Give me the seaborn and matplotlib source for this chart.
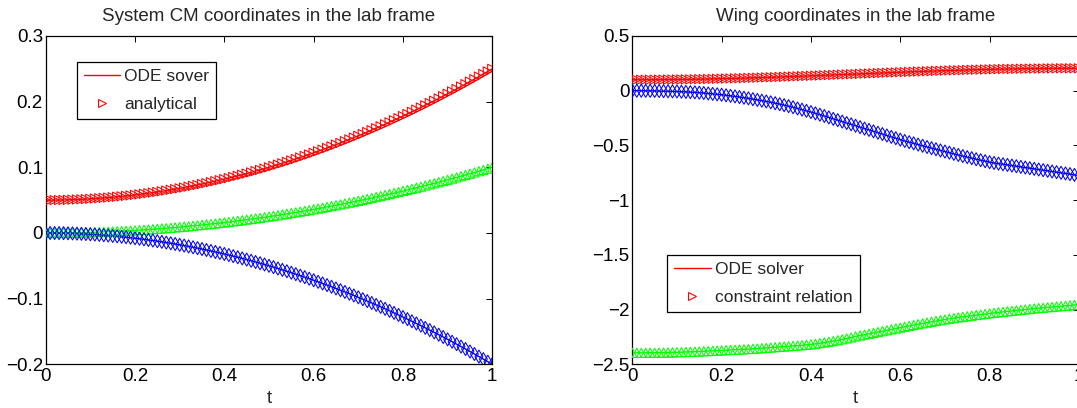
import numpy as np
import pandas as pd
import matplotlib
matplotlib.use("Agg")
import matplotlib.pyplot as plt
import seaborn as sns

# ---------------- data ----------------
t = [round(0.01 * k, 2) for k in range(101)]

cm_red = [0.0500, 0.0500, 0.0501, 0.0502, 0.0503, 0.0505, 0.0507, 0.0510, 0.0513, 0.0516,
          0.0520, 0.0524, 0.0529, 0.0534, 0.0539, 0.0545, 0.0551, 0.0558, 0.0565, 0.0572,
          0.0580, 0.0588, 0.0597, 0.0606, 0.0615, 0.0625, 0.0635, 0.0646, 0.0657, 0.0668,
          0.0680, 0.0692, 0.0705, 0.0718, 0.0731, 0.0745, 0.0759, 0.0774, 0.0789, 0.0804,
          0.0820, 0.0836, 0.0853, 0.0870, 0.0887, 0.0905, 0.0923, 0.0942, 0.0961, 0.0980,
          0.1000, 0.1020, 0.1041, 0.1062, 0.1083, 0.1105, 0.1127, 0.1150, 0.1173, 0.1196,
          0.1220, 0.1244, 0.1269, 0.1294, 0.1319, 0.1345, 0.1371, 0.1398, 0.1425, 0.1452,
          0.1480, 0.1508, 0.1537, 0.1566, 0.1595, 0.1625, 0.1655, 0.1686, 0.1717, 0.1748,
          0.1780, 0.1812, 0.1845, 0.1878, 0.1911, 0.1945, 0.1979, 0.2014, 0.2049, 0.2084,
          0.2120, 0.2156, 0.2193, 0.2230, 0.2267, 0.2305, 0.2343, 0.2382, 0.2421, 0.2460,
          0.2500]

cm_green = [0.0000, 0.0000, 0.0000, 0.0001, 0.0002, 0.0003, 0.0004, 0.0005, 0.0006, 0.0008,
            0.0010, 0.0012, 0.0014, 0.0017, 0.0020, 0.0023, 0.0026, 0.0029, 0.0032, 0.0036,
            0.0040, 0.0044, 0.0048, 0.0053, 0.0058, 0.0063, 0.0068, 0.0073, 0.0078, 0.0084,
            0.0090, 0.0096, 0.0102, 0.0109, 0.0116, 0.0123, 0.0130, 0.0137, 0.0144, 0.0152,
            0.0160, 0.0168, 0.0176, 0.0185, 0.0194, 0.0203, 0.0212, 0.0221, 0.0230, 0.0240,
            0.0250, 0.0260, 0.0270, 0.0281, 0.0292, 0.0303, 0.0314, 0.0325, 0.0336, 0.0348,
            0.0360, 0.0372, 0.0384, 0.0397, 0.0410, 0.0423, 0.0436, 0.0449, 0.0462, 0.0476,
            0.0490, 0.0504, 0.0518, 0.0533, 0.0548, 0.0563, 0.0578, 0.0593, 0.0608, 0.0624,
            0.0640, 0.0656, 0.0672, 0.0689, 0.0706, 0.0723, 0.0740, 0.0757, 0.0774, 0.0792,
            0.0810, 0.0828, 0.0846, 0.0865, 0.0884, 0.0903, 0.0922, 0.0941, 0.0960, 0.0980,
            0.1000]

cm_blue = [0.0000, -0.0000, -0.0001, -0.0002, -0.0003, -0.0005, -0.0007, -0.0010, -0.0013, -0.0016,
           -0.0020, -0.0024, -0.0029, -0.0034, -0.0039, -0.0045, -0.0051, -0.0058, -0.0065, -0.0072,
           -0.0080, -0.0088, -0.0097, -0.0106, -0.0115, -0.0125, -0.0135, -0.0146, -0.0157, -0.0168,
           -0.0180, -0.0192, -0.0205, -0.0218, -0.0231, -0.0245, -0.0259, -0.0274, -0.0289, -0.0304,
           -0.0320, -0.0336, -0.0353, -0.0370, -0.0387, -0.0405, -0.0423, -0.0442, -0.0461, -0.0480,
           -0.0500, -0.0520, -0.0541, -0.0562, -0.0583, -0.0605, -0.0627, -0.0650, -0.0673, -0.0696,
           -0.0720, -0.0744, -0.0769, -0.0794, -0.0819, -0.0845, -0.0871, -0.0898, -0.0925, -0.0952,
           -0.0980, -0.1008, -0.1037, -0.1066, -0.1095, -0.1125, -0.1155, -0.1186, -0.1217, -0.1248,
           -0.1280, -0.1312, -0.1345, -0.1378, -0.1411, -0.1445, -0.1479, -0.1514, -0.1549, -0.1584,
           -0.1620, -0.1656, -0.1693, -0.1730, -0.1767, -0.1805, -0.1843, -0.1882, -0.1921, -0.1960,
           -0.2000]

wing_red = [0.100, 0.100, 0.100, 0.100, 0.100, 0.101, 0.101, 0.101, 0.102, 0.102,
            0.103, 0.103, 0.104, 0.104, 0.105, 0.106, 0.106, 0.107, 0.108, 0.109,
            0.110, 0.111, 0.112, 0.113, 0.114, 0.115, 0.117, 0.118, 0.119, 0.120,
            0.122, 0.123, 0.124, 0.126, 0.127, 0.129, 0.130, 0.132, 0.133, 0.135,
            0.136, 0.138, 0.139, 0.141, 0.143, 0.144, 0.146, 0.148, 0.149, 0.151,
            0.152, 0.154, 0.156, 0.157, 0.159, 0.161, 0.162, 0.164, 0.166, 0.167,
            0.169, 0.170, 0.172, 0.173, 0.175, 0.176, 0.178, 0.179, 0.181, 0.182,
            0.183, 0.185, 0.186, 0.187, 0.188, 0.190, 0.191, 0.192, 0.193, 0.194,
            0.195, 0.196, 0.197, 0.198, 0.199, 0.199, 0.200, 0.201, 0.201, 0.202,
            0.202, 0.203, 0.203, 0.204, 0.204, 0.204, 0.205, 0.205, 0.205, 0.205,
            0.205]

wing_blue = [0.000, 0.000, 0.000, -0.001, -0.001, -0.002, -0.003, -0.004, -0.005, -0.006,
             -0.007, -0.009, -0.011, -0.013, -0.015, -0.018, -0.021, -0.025, -0.029, -0.033,
             -0.037, -0.042, -0.047, -0.052, -0.058, -0.064, -0.070, -0.077, -0.084, -0.091,
             -0.098, -0.106, -0.114, -0.123, -0.132, -0.141, -0.151, -0.162, -0.173, -0.184,
             -0.195, -0.207, -0.219, -0.231, -0.244, -0.257, -0.269, -0.282, -0.295, -0.307,
             -0.320, -0.333, -0.346, -0.358, -0.371, -0.384, -0.396, -0.409, -0.422, -0.434,
             -0.447, -0.459, -0.470, -0.481, -0.492, -0.503, -0.514, -0.525, -0.535, -0.546,
             -0.556, -0.566, -0.577, -0.587, -0.597, -0.607, -0.616, -0.626, -0.635, -0.644,
             -0.653, -0.660, -0.666, -0.672, -0.678, -0.684, -0.690, -0.696, -0.702, -0.708,
             -0.714, -0.720, -0.726, -0.732, -0.738, -0.744, -0.750, -0.756, -0.762, -0.769,
             -0.775]

wing_green = [-2.395, -2.395, -2.395, -2.395, -2.394, -2.394, -2.393, -2.393, -2.392, -2.391,
              -2.390, -2.389, -2.387, -2.386, -2.384, -2.383, -2.381, -2.379, -2.377, -2.375,
              -2.373, -2.371, -2.369, -2.367, -2.365, -2.363, -2.361, -2.358, -2.356, -2.353,
              -2.350, -2.347, -2.344, -2.341, -2.338, -2.335, -2.332, -2.329, -2.326, -2.322,
              -2.318, -2.313, -2.307, -2.301, -2.294, -2.287, -2.280, -2.272, -2.264, -2.255,
              -2.245, -2.237, -2.229, -2.221, -2.213, -2.205, -2.197, -2.189, -2.181, -2.173,
              -2.165, -2.157, -2.149, -2.141, -2.133, -2.126, -2.119, -2.111, -2.104, -2.097,
              -2.090, -2.084, -2.078, -2.072, -2.066, -2.061, -2.056, -2.050, -2.045, -2.040,
              -2.035, -2.030, -2.025, -2.021, -2.016, -2.012, -2.008, -2.003, -1.999, -1.995,
              -1.990, -1.986, -1.983, -1.979, -1.976, -1.972, -1.969, -1.965, -1.962, -1.958,
              -1.955]

x_ticks = [0, 0.2, 0.4, 0.6, 0.8, 1]
x_ticklabels = ["0", "0.2", "0.4", "0.6", "0.8", "1"]
left_yticks = [-0.2, -0.1, 0, 0.1, 0.2, 0.3]
left_yticklabels = ["\u22120.2", "\u22120.1", "0", "0.1", "0.2", "0.3"]
right_yticks = [-2.5, -2, -1.5, -1, -0.5, 0, 0.5]
right_yticklabels = ["\u22122.5", "\u22122", "\u22121.5", "\u22121", "\u22120.5", "0", "0.5"]

left_title = "System CM coordinates in the lab frame"
right_title = "Wing coordinates in the lab frame"
left_legend = ["ODE sover", "analytical"]
right_legend = ["ODE solver", "constraint relation"]

# ---------------- style ----------------
sns.set_theme(style="white")
plt.rcParams["font.family"] = ["Liberation Sans", "DejaVu Sans"]
plt.rcParams["axes.edgecolor"] = "black"
plt.rcParams["axes.linewidth"] = 0.9

RED, GREEN, BLUE = (1, 0, 0), (0, 1, 0), (0, 0, 1)
FS = 13.5
LFS = 12.5

fig = plt.figure(figsize=(10.77, 4.08), dpi=100)
axL = fig.add_axes([45.7 / 1077, 1 - 364.3 / 408, 446.6 / 1077, 328.3 / 408])
axR = fig.add_axes([632.3 / 1077, 1 - 364.3 / 408, 446.6 / 1077, 328.3 / 408])


def draw(ax, ys, markers, colors):
    for y, m, c in zip(ys, markers, colors):
        df = pd.DataFrame({"t": t, "y": y})
        sns.lineplot(data=df, x="t", y="y", ax=ax, color=c, linewidth=1.0,
                     estimator=None, sort=False, zorder=2)
        sns.scatterplot(data=df, x="t", y="y", ax=ax, marker=m, s=44,
                        facecolors="none", edgecolor=c, linewidth=0.75, zorder=3)
    line_h = plt.Line2D([], [], color=RED, linewidth=1.0)
    mark_h = plt.Line2D([], [], color=RED, linestyle="none", marker=">",
                        markerfacecolor="none", markersize=6, markeredgewidth=0.8)
    return [line_h, mark_h]


hL = draw(axL, [cm_red, cm_green, cm_blue], [">", "^", "d"], [RED, GREEN, BLUE])
hR = draw(axR, [wing_red, wing_blue, wing_green], [">", "d", "^"], [RED, BLUE, GREEN])

for ax, yt, ytl, ttl in [(axL, left_yticks, left_yticklabels, left_title),
                         (axR, right_yticks, right_yticklabels, right_title)]:
    ax.set_xlim(0, 1)
    ax.set_ylim(yt[0], yt[-1])
    ax.set_xticks(x_ticks)
    ax.set_xticklabels(x_ticklabels)
    ax.set_yticks(yt)
    ax.set_yticklabels(ytl)
    ax.tick_params(axis="both", which="both", direction="in", length=4, width=0.7,
                   top=True, right=True, labelsize=FS, colors="black")
    ax.tick_params(axis="x", pad=3)
    ax.tick_params(axis="y", pad=2)
    ax.set_xlabel("t", fontsize=FS, labelpad=3)
    ax.set_ylabel("")
    ax.set_title(ttl, fontsize=FS, pad=11)
    for s in ax.spines.values():
        s.set_visible(True)
        s.set_color("black")

legL = axL.legend(hL, left_legend, loc="upper left", bbox_to_anchor=(0.0694, 0.9217),
                  borderaxespad=0, fontsize=LFS, frameon=True, fancybox=False,
                  edgecolor="black", framealpha=1, handlelength=2.1, handletextpad=0.25,
                  labelspacing=0.75, borderpad=0.4)
legL.get_frame().set_linewidth(0.9)
legR = axR.legend(hR, right_legend, loc="upper left", bbox_to_anchor=(0.0784, 0.333),
                  borderaxespad=0, fontsize=LFS, frameon=True, fancybox=False,
                  edgecolor="black", framealpha=1, handlelength=2.1, handletextpad=0.25,
                  labelspacing=0.75, borderpad=0.4)
legR.get_frame().set_linewidth(0.9)

fig.savefig("out.png", dpi=100)
